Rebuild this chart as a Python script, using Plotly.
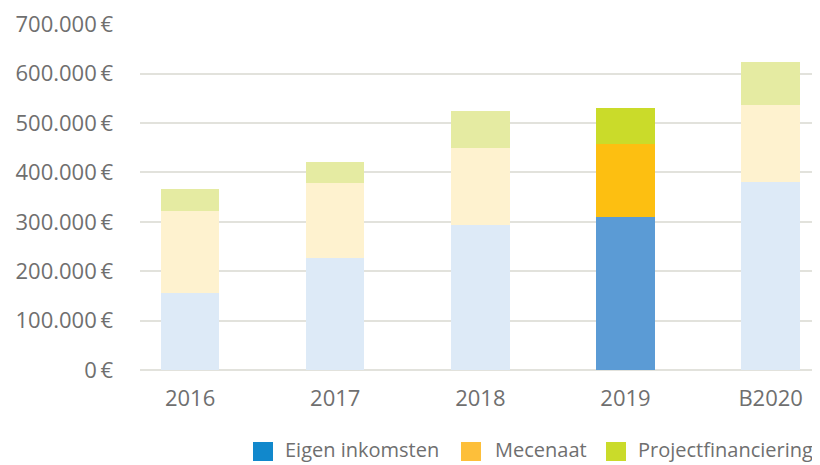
import plotly.graph_objects as go

years = ["2016", "2017", "2018", "2019", "B2020"]
eigen_inkomsten = [156000, 227000, 293000, 310000, 380000]
mecenaat = [166000, 151000, 156000, 147000, 156000]
projectfinanciering = [44000, 43000, 75000, 73000, 87000]

series_names = ["Eigen inkomsten", "Mecenaat", "Projectfinanciering"]
highlight_year = "2019"

y_ticks = [0, 100000, 200000, 300000, 400000, 500000, 600000, 700000]
y_ticktext = ["0\u2009€", "100.000\u2009€", "200.000\u2009€", "300.000\u2009€",
              "400.000\u2009€", "500.000\u2009€", "600.000\u2009€", "700.000\u2009€"]

# strong colour for the highlighted year, pale for the rest
strong = ["#5B9BD5", "#FDBF11", "#CADB2A"]
pale = ["#DDEAF7", "#FEF2CF", "#E5EBA2"]
legend_colors = ["#1188CC", "#FDBF3A", "#CADB2A"]

FONT = "Open Sans"
GREY = "#6F6F6F"

# page body has an 8px margin, so the figure is placed 8px in
PLOT_L, PLOT_T, PLOT_W, PLOT_H = 132, 16, 680, 346

fig = go.Figure()
for name, values, c_strong, c_pale in zip(series_names,
                                          [eigen_inkomsten, mecenaat, projectfinanciering],
                                          strong, pale):
    fig.add_trace(go.Bar(
        x=years,
        y=values,
        name=name,
        width=0.403,
        marker=dict(color=[c_strong if y == highlight_year else c_pale for y in years],
                    line=dict(width=0)),
        showlegend=False,
        hovertemplate=f"{name}<br>%{{x}}: %{{y:,.0f}} €<extra></extra>",
    ))


def px_x(x):
    return (x - 8 - PLOT_L) / PLOT_W


def px_y(y):
    return (PLOT_T + PLOT_H - (y - 8)) / PLOT_H


# Custom legend at the bottom right (screen pixel positions)
legend_sq = [253, 461, 606]
legend_txt = [284, 494, 637]
for name, color, xs, xt in zip(series_names, legend_colors, legend_sq, legend_txt):
    fig.add_shape(type="rect", xref="paper", yref="paper",
                  x0=px_x(xs), x1=px_x(xs + 20),
                  y0=px_y(461), y1=px_y(442),
                  fillcolor=color, line=dict(width=0))
    fig.add_annotation(xref="paper", yref="paper",
                       x=px_x(xt), y=px_y(450),
                       text=name, showarrow=False, xanchor="left", yanchor="middle",
                       xshift=-1,
                       font=dict(family=FONT, size=20, color=GREY))

fig.update_layout(
    barmode="stack",
    width=820,
    height=465,
    margin=dict(l=PLOT_L, r=820 - PLOT_L - PLOT_W, t=PLOT_T, b=465 - PLOT_T - PLOT_H),
    plot_bgcolor="white",
    paper_bgcolor="white",
    font=dict(family=FONT, size=22, color=GREY),
    xaxis=dict(
        range=[-0.345, 4.34],
        automargin=False,
        showgrid=False,
        showline=False,
        zeroline=False,
        ticks="",
        ticklabelstandoff=13,
        tickfont=dict(family=FONT, size=22, color=GREY),
    ),
    yaxis=dict(
        range=[0, 700600],
        automargin=False,
        tickvals=y_ticks,
        ticktext=y_ticktext,
        showgrid=True,
        gridcolor="#E2E2DC",
        gridwidth=1.5,
        zeroline=True,
        zerolinecolor="#E2E2DC",
        zerolinewidth=1.5,
        ticks="",
        ticklabelstandoff=26,
        tickfont=dict(family=FONT, size=22, color=GREY),
    ),
    bargap=0.6,
)

fig.write_html("out.html")
